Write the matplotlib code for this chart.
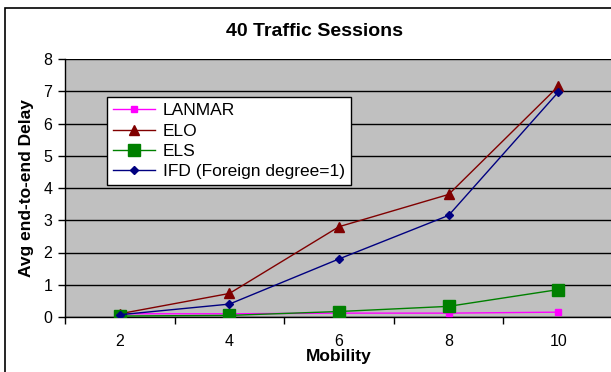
import numpy as np
import matplotlib.pyplot as plt
from matplotlib.patches import Rectangle

plt.rcParams['font.family'] = ['Liberation Sans', 'DejaVu Sans']

mobility = ['2', '4', '6', '8', '10']
lanmar = [0.10, 0.10, 0.12, 0.12, 0.15]
elo = [0.10, 0.73, 2.80, 3.80, 7.15]
els = [0.03, 0.05, 0.17, 0.33, 0.85]
ifd = [0.07, 0.40, 1.80, 3.15, 6.97]

fig = plt.figure(figsize=(6.11, 3.72), dpi=100)
# outer chart border (cut off on right / bottom like the original)
fig.patches.append(Rectangle((5/611, -0.1), 1.2, (372-8)/372 + 0.1, transform=fig.transFigure,
                             fill=False, edgecolor='black', lw=1.2))

ax = fig.add_axes([65/611, 55/372, 548/611, 258/372])
ax.set_facecolor('#c0c0c0')
x = np.arange(len(mobility))

ax.plot(x, lanmar, color='#ff00ff', marker='s', ms=5, lw=1, label='LANMAR', zorder=3)
ax.plot(x, elo, color='#800000', marker='^', ms=7, lw=1, label='ELO', zorder=3)
ax.plot(x, els, color='#008000', marker='s', ms=9, lw=1, label='ELS', zorder=3)
ax.plot(x, ifd, color='#000080', marker='D', ms=4.5, lw=1, label='IFD (Foreign degree=1)', zorder=4)

ax.set_xlim(-0.5, 4.5)
ax.set_ylim(0, 8)
ax.set_yticks(range(0, 9))
ax.yaxis.grid(True, color='black', lw=1)
ax.set_axisbelow(True)

ax.set_xticks(x)
ax.set_xticklabels(mobility)
ax.tick_params(axis='x', length=0, pad=12, labelsize=11.5)
ax.set_xticks(np.arange(-0.5, 5, 1), minor=True)
ax.tick_params(axis='x', which='minor', length=5, width=1, direction='out')
ax.tick_params(axis='y', length=5, width=1, labelsize=11.5, pad=4)

for s in ['top', 'right']:
    ax.spines[s].set_visible(False)
ax.spines['left'].set_linewidth(1)
ax.spines['bottom'].set_linewidth(1)

ax.set_xlabel('Mobility', fontsize=12.5, fontweight='bold', labelpad=0)
ax.set_ylabel('Avg end-to-end Delay', fontsize=12.5, fontweight='bold', labelpad=7)
fig.text(315/611, 1 - 32/372, '40 Traffic Sessions', ha='center', va='center',
         fontsize=14, fontweight='bold')

leg = ax.legend(loc='upper left', bbox_to_anchor=(42/548, (313-93)/258), fontsize=12.5,
                fancybox=False, framealpha=1, edgecolor='black', borderpad=0.35,
                labelspacing=0.3, handlelength=2.4, handletextpad=0.45, borderaxespad=0)
leg.get_frame().set_linewidth(1)

fig.savefig('out.png', dpi=100)
